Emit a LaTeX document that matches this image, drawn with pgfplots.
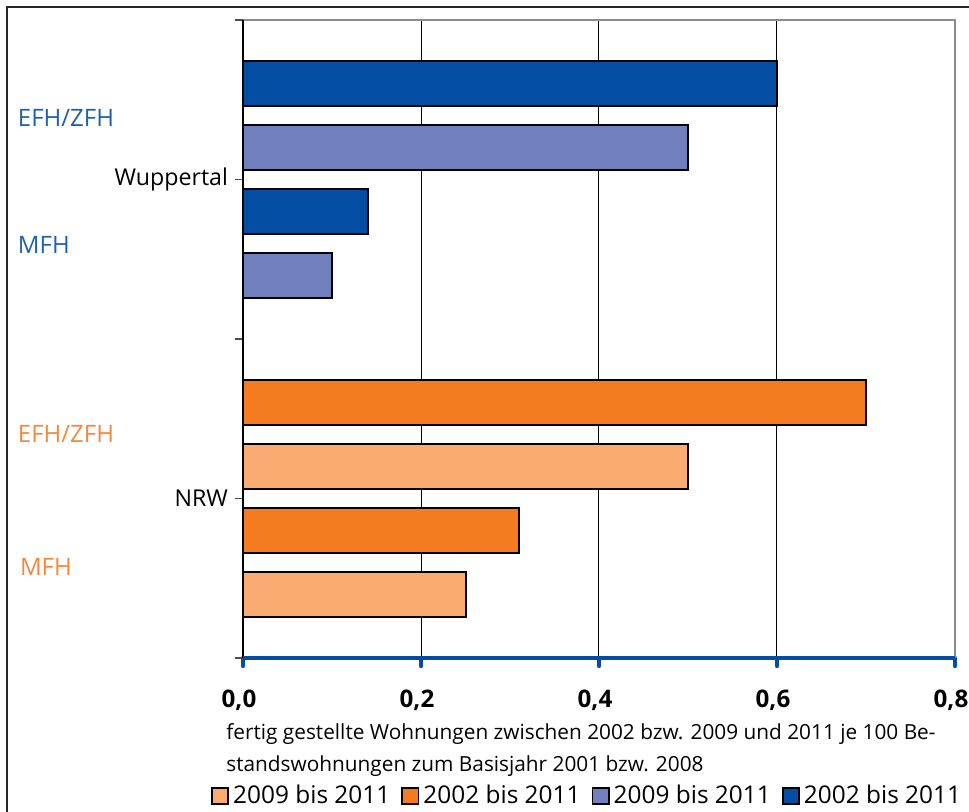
\documentclass[border=0pt]{standalone}
\usepackage{pgfplots}
\pgfplotsset{compat=1.18}
\usepackage{fontspec}
\setmainfont{Open Sans}
\definecolor{dblue}{RGB}{3,78,162}
\definecolor{lpurple}{RGB}{112,127,190}
\definecolor{dorange}{RGB}{244,123,32}
\definecolor{lorange}{RGB}{249,171,114}
\definecolor{tblue}{RGB}{32,96,176}
\definecolor{torange}{RGB}{242,138,62}
\definecolor{axblue}{RGB}{3,78,162}
\begin{document}
\begin{tikzpicture}
\draw[line width=1pt, black!85] (3.5pt,-406pt) -- (3.5pt,-3.5pt) -- (485pt,-3.5pt);
\begin{axis}[
 at={(121.5pt,-329pt)}, anchor=south west,
 width=356pt, height=319pt, scale only axis,
 xmin=0, xmax=0.8, ymin=0, ymax=10,
 clip=false,
 xbar, bar width=0.7, bar shift=0pt,
 xtick={0,0.2,0.4,0.6,0.8},
 ytick={0,2.5,5,7.5,10},
 yticklabels={,NRW,,Wuppertal,},
 xmajorgrids, grid style={black, line width=0.5pt},
 axis line style={draw=none},
 tick align=outside, major tick length=4pt,
 xtick pos=left, ytick pos=left,
 xtick style={draw=axblue, line width=2.2pt, line cap=round},
 ytick style={draw=black!70, line width=0.7pt},
 xticklabel style={font=\fontsize{12.1}{14}\selectfont\bfseries, yshift=-8.5pt, xshift=-2pt},
 yticklabel style={font=\fontsize{11.6}{14}\selectfont},
 /pgf/number format/.cd, use comma, fixed, fixed zerofill, precision=1, assume math mode=true, /pgfplots/.cd,
 legend columns=4,
 legend style={draw=none, fill=none, at={(0.4846,-0.2165)}, anchor=center,
   font=\fontsize{12.2}{14}\selectfont,
   /tikz/every even column/.append style={column sep=3.5pt}},
 legend image code/.code={\draw[#1, line width=0.9pt] (-2pt,-4.1pt) rectangle (6.2pt,4.1pt);},
]
\addplot[fill=lorange, draw=black, line width=1pt, bar shift=0pt] coordinates {(0.5,3) (0.25,1)};
\addlegendentry{2009 bis 2011}
\addplot[fill=dorange, draw=black, line width=1pt, bar shift=0pt] coordinates {(0.7,4) (0.31,2)};
\addlegendentry{2002 bis 2011}
\addplot[fill=lpurple, draw=black, line width=1pt, bar shift=0pt] coordinates {(0.5,8) (0.1,6)};
\addlegendentry{2009 bis 2011}
\addplot[fill=dblue, draw=black, line width=1pt, bar shift=0pt] coordinates {(0.6,9) (0.14,7)};
\addlegendentry{2002 bis 2011}
\draw[black!45, line width=1pt] (axis cs:0,10) -- (axis cs:0.8,10) -- (axis cs:0.8,0);
\draw[black, line width=0.8pt] (axis cs:0,0) -- (axis cs:0,10);
\draw[axblue, line width=2.2pt] (axis cs:0,0) -- (axis cs:0.8,0);
\node[anchor=base west, inner sep=0pt, font=\fontsize{10.4}{12}\selectfont] at (axis description cs:-0.0239,-0.1270) {fertig gestellte Wohnungen zwischen 2002 bzw. 2009 und 2011 je 100 Be-};
\node[anchor=base west, inner sep=0pt, font=\fontsize{10.4}{12}\selectfont] at (axis description cs:-0.0239,-0.1775) {standswohnungen zum Basisjahr 2001 bzw. 2008};
\end{axis}
\begin{scope}[every node/.style={anchor=base west, inner sep=0pt, font=\fontsize{12}{14}\selectfont}]
\node[text=tblue] at (8.8pt,-63pt) {EFH/ZFH};
\node[text=tblue] at (8.8pt,-126.5pt) {MFH};
\node[text=torange] at (8.8pt,-221.2pt) {EFH/ZFH};
\node[text=torange] at (9.8pt,-287.5pt) {MFH};
\end{scope}
\pgfresetboundingbox
\path[use as bounding box] (0,0) rectangle (484.5pt,-405.5pt);
\end{tikzpicture}
\end{document}
